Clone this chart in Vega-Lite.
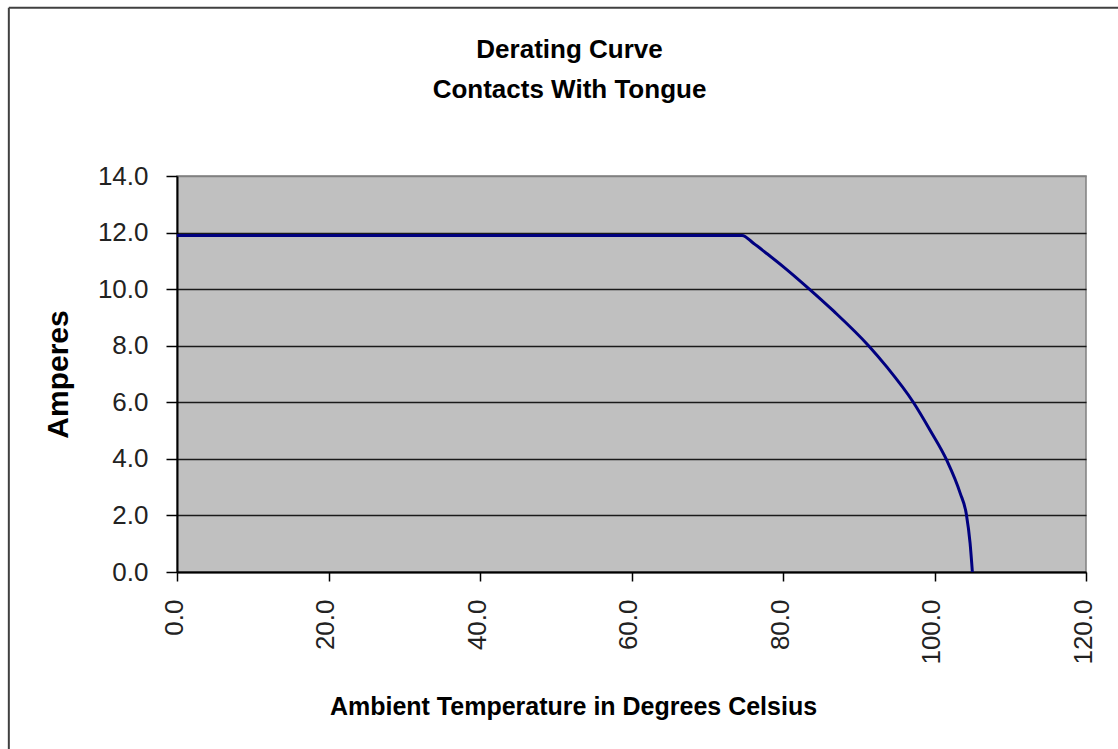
{
  "$schema": "https://vega.github.io/schema/vega-lite/v6.json",
  "width": 909,
  "height": 396,
  "autosize": {"type": "none"},
  "padding": {"left": 177, "top": 176, "right": 32, "bottom": 177},
  "background": "white",
  "title": {
    "text": ["Derating Curve", "Contacts With Tongue"],
    "font": "Liberation Sans",
    "fontSize": 26,
    "fontWeight": "bold",
    "color": "black",
    "lineHeight": 40,
    "anchor": "middle",
    "frame": "group",
    "dx": -62,
    "offset": -96
  },
  "config": {
    "view": {"fill": "#C0C0C0", "stroke": "#808080", "strokeWidth": 1.5},
    "font": "Liberation Sans"
  },
  "datasets": {
    "curve": [
      {"t": 0, "a": 11.9},
      {"t": 74.6, "a": 11.9},
      {"t": 76.1, "a": 11.62},
      {"t": 77.9, "a": 11.25},
      {"t": 80.1, "a": 10.78},
      {"t": 83.4, "a": 10.02},
      {"t": 86.7, "a": 9.22},
      {"t": 91.3, "a": 8.0},
      {"t": 93.7, "a": 7.25},
      {"t": 97.2, "a": 6.0},
      {"t": 99.4, "a": 5.02},
      {"t": 101.6, "a": 3.96},
      {"t": 103.4, "a": 2.78},
      {"t": 104.2, "a": 2.05},
      {"t": 104.7, "a": 1.01},
      {"t": 105.0, "a": 0}
    ],
    "frame": [{}]
  },
  "layer": [
    {
      "data": {"name": "frame"},
      "mark": {"type": "rule", "color": "#404040", "strokeWidth": 2},
      "encoding": {
        "x": {"datum": -22.2, "type": "quantitative", "scale": {"domain": [0, 120], "nice": false, "zero": false}},
        "y": {"datum": -8, "type": "quantitative", "scale": {"domain": [0, 14], "nice": false, "zero": false}},
        "y2": {"datum": 19.95}
      }
    },
    {
      "data": {"name": "frame"},
      "mark": {"type": "rule", "color": "#404040", "strokeWidth": 2},
      "encoding": {
        "x": {"datum": -22.2, "type": "quantitative", "scale": {"domain": [0, 120], "nice": false, "zero": false}},
        "x2": {"datum": 130},
        "y": {"datum": 19.95, "type": "quantitative", "scale": {"domain": [0, 14], "nice": false, "zero": false}}
      }
    },
    {
      "data": {"name": "curve"},
      "mark": {"type": "line", "color": "#000080", "strokeWidth": 3, "interpolate": "monotone"},
      "encoding": {
        "x": {
          "field": "t",
          "type": "quantitative",
          "scale": {"domain": [0, 120], "nice": false, "zero": false},
          "axis": {
            "title": "Ambient Temperature in Degrees Celsius",
            "values": [0, 20, 40, 60, 80, 100, 120],
            "format": ".1f",
            "grid": false,
            "labelAngle": -90,
            "labelAlign": "right",
            "labelBaseline": "middle",
            "labelPadding": 18,
            "labelOffset": -3,
            "labelFont": "Liberation Sans",
            "labelFontSize": 26,
            "labelColor": "#222222",
            "labelOverlap": false,
            "tickSize": 9,
            "tickColor": "black",
            "tickWidth": 1.5,
            "domainColor": "black",
            "domainWidth": 2,
            "titleFont": "Liberation Sans",
            "titleFontSize": 25,
            "titleFontWeight": "bold",
            "titleColor": "black",
            "titleX": 396,
            "titleY": 142,
            "titleAlign": "center",
            "titleBaseline": "alphabetic"
          }
        },
        "y": {
          "field": "a",
          "type": "quantitative",
          "scale": {"domain": [0, 14], "nice": false, "zero": false},
          "axis": {
            "title": "Amperes",
            "values": [0, 2, 4, 6, 8, 10, 12, 14],
            "format": ".1f",
            "grid": true,
            "gridColor": {"condition": {"test": "datum.value >= 14", "value": "#808080"}, "value": "#1a1a1a"},
            "gridWidth": 1.5,
            "labelPadding": 18,
            "labelFont": "Liberation Sans",
            "labelFontSize": 26,
            "labelColor": "#222222",
            "tickSize": 11,
            "tickColor": "black",
            "tickWidth": 1.5,
            "domainColor": "black",
            "domainWidth": 2,
            "titleFont": "Liberation Sans",
            "titleFontSize": 30,
            "titleFontWeight": "bold",
            "titleColor": "black",
            "titleAngle": -90,
            "titleX": -119,
            "titleY": 198,
            "titleAlign": "center",
            "titleBaseline": "middle"
          }
        }
      }
    }
  ]
}
